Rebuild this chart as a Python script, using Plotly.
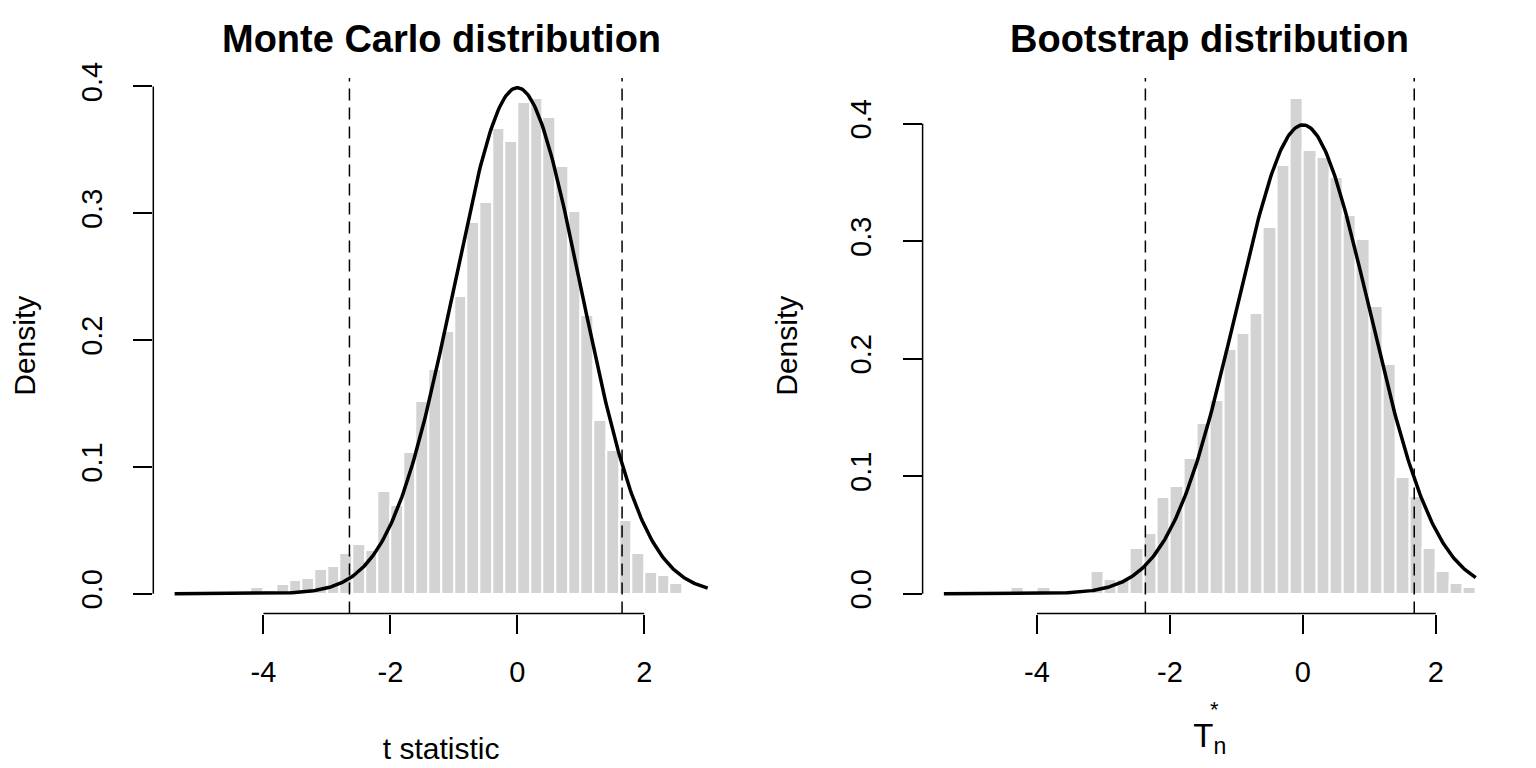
import math
import plotly.graph_objects as go
from plotly.subplots import make_subplots

# Histogram bins (width 0.2) for both panels
bin_width = 0.2
mc_start, mc_end = -5.4, 3.0
boot_start, boot_end = -5.4, 2.6

# Monte Carlo t statistics: density per bin, bins from -5.4 to 3.0
mc_density = [0, 0, 0, 0, 0, 0,
              0.0056, 0.0032, 0.008, 0.011, 0.012, 0.0195, 0.022, 0.032, 0.0395, 0.0344,
              0.081, 0.0696, 0.112, 0.152, 0.177, 0.2075, 0.235, 0.293, 0.309, 0.367,
              0.357, 0.388, 0.391, 0.376, 0.337, 0.302, 0.220, 0.137, 0.1136, 0.0584,
              0.0323, 0.017, 0.0147, 0.0083, 0.001, 0]

# Bootstrap T*_n: density per bin, bins from -5.4 to 2.6
boot_density = [0, 0, 0, 0, 0,
                0.0057, 0, 0.0057, 0, 0, 0, 0.019, 0.0123, 0.0126, 0.039,
                0.052, 0.082, 0.092, 0.1156, 0.1455, 0.165, 0.2086, 0.222, 0.239, 0.312,
                0.365, 0.422, 0.378, 0.372, 0.355, 0.322, 0.302, 0.245, 0.1957, 0.099,
                0.083, 0.039, 0.019, 0.0092, 0.0057]

# dashed lines (quantiles)
mc_crit = [-2.645, 1.651]
boot_crit = [-2.369, 1.675]

x_ticks = [-4, -2, 0, 2]
x_labels = ["-4", "-2", "0", "2"]
y_ticks = [0.0, 0.1, 0.2, 0.3, 0.4]
y_labels = ["0.0", "0.1", "0.2", "0.3", "0.4"]

FONT = "Liberation Sans, Arial, Helvetica, sans-serif"
W, H = 1536, 768
OFF = 8  # page body margin


def fx(px):
    return (px - OFF) / W


def fy(px):
    return 1 - (px - OFF) / H


def centers(start, n):
    return [round(start + bin_width * (i + 0.5), 10) for i in range(n)]


def dnorm_line(lo, hi, n=400):
    xs = [lo + (hi - lo) * i / (n - 1) for i in range(n)]
    ys = [math.exp(-x * x / 2) / math.sqrt(2 * math.pi) for x in xs]
    return xs, ys


def pad(lo, hi):
    d = (hi - lo) * 0.04
    return [lo - d, hi + d]


fig = make_subplots(rows=1, cols=2)

panels = [
    (1, mc_start, mc_end, mc_density, mc_crit),
    (2, boot_start, boot_end, boot_density, boot_crit),
]

for col, lo, hi, dens, crit in panels:
    fig.add_trace(go.Bar(x=centers(lo, len(dens)), y=dens, width=bin_width,
                         marker=dict(color="#d3d3d3", line=dict(color="white", width=2)),
                         showlegend=False, hoverinfo="skip"), row=1, col=col)
    cx, cy = dnorm_line(lo, hi)
    fig.add_trace(go.Scatter(x=cx, y=cy, mode="lines",
                             line=dict(color="black", width=3.5), showlegend=False),
                  row=1, col=col)
    sfx = "" if col == 1 else "2"
    for c in crit:
        fig.add_shape(type="line", xref="x" + sfx, yref="y" + sfx + " domain",
                      x0=c, x1=c, y0=0, y1=1,
                      line=dict(color="black", width=1.5, dash="12px,7px"))
    # R-style axis lines spanning only the tick range
    fig.add_shape(type="line", xref="x" + sfx + " domain", yref="y" + sfx,
                  x0=0, x1=0, y0=min(y_ticks), y1=max(y_ticks),
                  line=dict(color="black", width=1.5))
    fig.add_shape(type="line", xref="x" + sfx, yref="y" + sfx + " domain",
                  x0=min(x_ticks), x1=max(x_ticks), y0=0, y1=0,
                  line=dict(color="black", width=1.5))
    fig.update_xaxes(range=pad(lo, hi), tickvals=x_ticks, ticktext=x_labels,
                     ticks="outside", ticklen=19, tickwidth=1.5, tickcolor="black",
                     showline=False, showgrid=False, zeroline=False, automargin=False,
                     tickfont=dict(size=29, color="black"), ticklabelstandoff=14,
                     row=1, col=col)
    fig.update_yaxes(range=pad(0, max(dens)), tickvals=y_ticks, ticktext=y_labels,
                     ticks="outside", ticklen=19, tickwidth=1.5, tickcolor="black",
                     tickangle=-90, showline=False, showgrid=False, zeroline=False,
                     automargin=False,
                     tickfont=dict(size=29, color="black"), ticklabelstandoff=20,
                     title=dict(text="Density", font=dict(size=30, color="black"), standoff=38),
                     row=1, col=col)

fig.update_xaxes(domain=[fx(153.3), fx(729)], row=1, col=1,
                 title=dict(text="t statistic", font=dict(size=30, color="black"), standoff=50))
fig.update_xaxes(domain=[fx(922.6), fx(1497)], row=1, col=2,
                 title=dict(text="T<sub>n</sub>", font=dict(size=33, color="black"), standoff=36))
fig.update_yaxes(domain=[fy(613.5), fy(78)])

fig.add_annotation(text="*", xref="x2 domain", yref="paper", x=0.509, y=0.068,
                   showarrow=False, font=dict(size=22, color="black"))
fig.add_annotation(text="<b>Monte Carlo distribution</b>", xref="x domain", yref="paper",
                   x=0.5, y=fy(39), yanchor="middle", showarrow=False,
                   font=dict(size=38, color="black"))
fig.add_annotation(text="<b>Bootstrap distribution</b>", xref="x2 domain", yref="paper",
                   x=0.5, y=fy(39), yanchor="middle", showarrow=False,
                   font=dict(size=38, color="black"))

fig.update_layout(width=W, height=H, autosize=False,
                  font=dict(family=FONT, color="black"),
                  plot_bgcolor="white", paper_bgcolor="white",
                  bargap=0, margin=dict(l=0, r=0, t=0, b=0))

fig.write_html("out.html")
